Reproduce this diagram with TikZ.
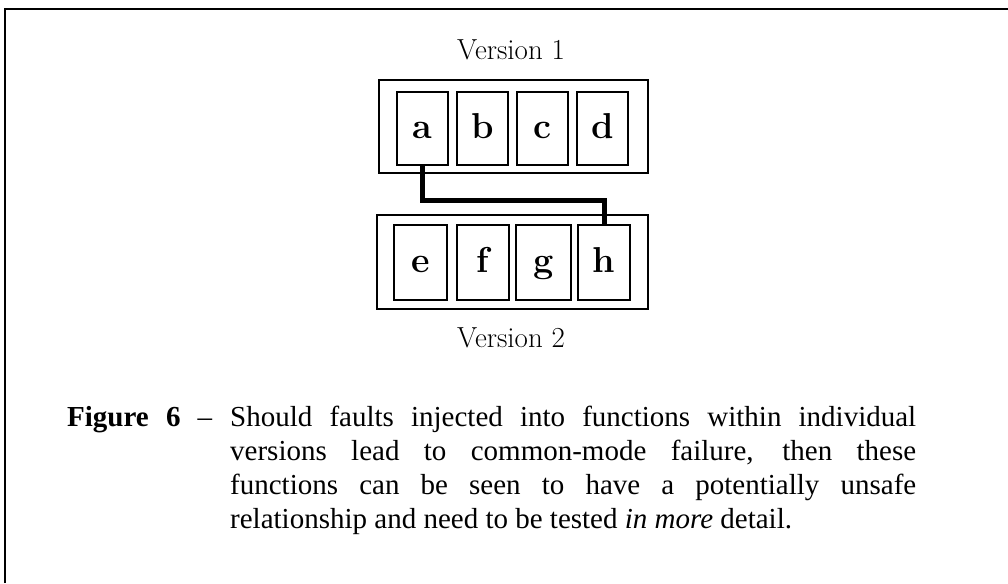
\documentclass[tikz,border=0pt]{standalone}
\usepackage{fontspec}
\newfontfamily\capfont{Liberation Serif}
\begin{document}
\begin{tikzpicture}[x=1pt,y=-1pt,
    cell/.style={draw,line width=1.4pt,minimum width=51pt,minimum height=73pt,inner sep=0pt,
      text height=24pt,text depth=4pt,font=\fontsize{36}{36}\selectfont\bfseries},
    outer/.style={draw,line width=1.8pt,minimum width=269pt,minimum height=93pt,inner sep=0pt},
    verlabel/.style={anchor=base,inner sep=0pt,font=\fontsize{29}{29}\selectfont},
    capline/.style={anchor=base west,inner sep=0pt,font=\capfont\fontsize{29}{34}\selectfont}]
  \useasboundingbox (0,0) rectangle (1008,583);
  \draw[line width=1.5pt] (5,583) -- (5,9) -- (1008,9);

  \node[verlabel] (v1) at (511,60) {Version 1};
  \node[outer] (ver1) at (513.5,126.5) {};
  \node[cell] (a) at (422.5,128.5) {a};
  \node[cell] (b) at (482.5,128.5) {b};
  \node[cell] (c) at (542.5,128.5) {c};
  \node[cell] (d) at (602.5,128.5) {d};

  \node[outer,minimum width=271pt,minimum height=94pt] (ver2) at (512.5,262) {};
  \node[cell,minimum width=53pt,minimum height=75pt] (e) at (420.5,262.5) {e};
  \node[cell,minimum width=52pt,minimum height=75pt] (f) at (483,262.5) {f};
  \node[cell,minimum width=55pt,minimum height=75pt] (g) at (543.5,262.5) {g};
  \node[cell,minimum width=52pt,minimum height=75pt] (h) at (604,262.5) {h};
  \node[verlabel] (v2) at (511,347) {Version 2};

  \coordinate (bend) at (0,200);
  \draw[line width=5pt] (a.south) -- (a.south |- bend) -- (h.north |- bend) -- (h.north);

  \node[capline] (fig) at (67,426) {\makebox[145pt][s]{\textbf{Figure} \textbf{6} –}};
  \foreach \txt [count=\i] in {{Should faults injected into functions within individual},
      {versions lead to common-mode failure, then these},
      {functions can be seen to have a potentially unsafe}}
    \node[capline] (cap\i) at (230,{392+34*\i}) {\makebox[686pt][s]{\txt}};
  \node[capline] (cap4) at (230,528) {relationship and need to be tested \textit{in more} detail.};
\end{tikzpicture}
\end{document}
